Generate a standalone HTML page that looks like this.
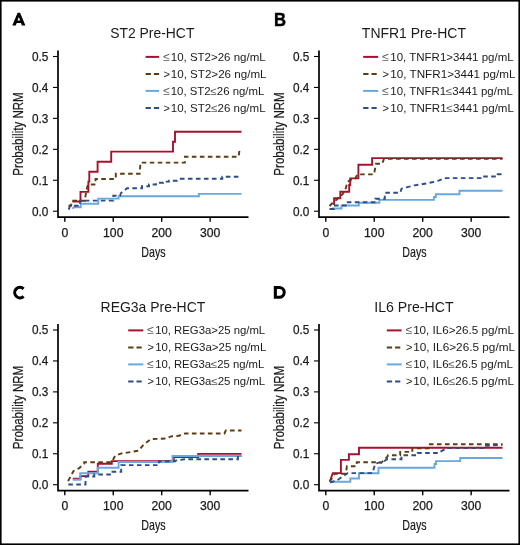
<!DOCTYPE html>
<html><head><meta charset="utf-8"><style>
html,body{margin:0;padding:0;background:#fff;}
body{width:520px;height:545px;overflow:hidden;}
svg{display:block;font-family:"Liberation Sans", sans-serif;will-change:transform;}
</style></head><body>
<svg width="520" height="545" viewBox="0 0 520 545">
<rect x="0" y="0" width="520" height="545" fill="#fff"/>
<g transform="translate(0 0)">
<path d="M12.3 25.6 L17.6 12.7 L20.1 12.7 L25.4 25.6 L21.9 25.6 L21.0 23.1 L16.7 23.1 L15.8 25.6 Z M17.5 20.6 L20.2 20.6 L18.85 16.9 Z" fill="#000" fill-rule="evenodd"/>
<text x="152.3" y="38.15" font-size="14.4" text-anchor="middle" font-weight="normal" fill="#1a1a1a" textLength="84.2" lengthAdjust="spacingAndGlyphs">ST2 Pre-HCT</text>
<path d="M58 50.5 V217.1 H248.5" fill="none" stroke="#000" stroke-width="1.7"/>
<path d="M53 211.2 H58" stroke="#000" stroke-width="1.1"/>
<text x="48.3" y="215.5" font-size="12.4" text-anchor="end" font-weight="normal" fill="#1a1a1a" textLength="16.4" lengthAdjust="spacingAndGlyphs" stroke="#1a1a1a" stroke-width="0.25">0.0</text>
<path d="M53 180.26 H58" stroke="#000" stroke-width="1.1"/>
<text x="48.3" y="184.56" font-size="12.4" text-anchor="end" font-weight="normal" fill="#1a1a1a" textLength="16.4" lengthAdjust="spacingAndGlyphs" stroke="#1a1a1a" stroke-width="0.25">0.1</text>
<path d="M53 149.32 H58" stroke="#000" stroke-width="1.1"/>
<text x="48.3" y="153.62" font-size="12.4" text-anchor="end" font-weight="normal" fill="#1a1a1a" textLength="16.4" lengthAdjust="spacingAndGlyphs" stroke="#1a1a1a" stroke-width="0.25">0.2</text>
<path d="M53 118.38 H58" stroke="#000" stroke-width="1.1"/>
<text x="48.3" y="122.68" font-size="12.4" text-anchor="end" font-weight="normal" fill="#1a1a1a" textLength="16.4" lengthAdjust="spacingAndGlyphs" stroke="#1a1a1a" stroke-width="0.25">0.3</text>
<path d="M53 87.44 H58" stroke="#000" stroke-width="1.1"/>
<text x="48.3" y="91.74" font-size="12.4" text-anchor="end" font-weight="normal" fill="#1a1a1a" textLength="16.4" lengthAdjust="spacingAndGlyphs" stroke="#1a1a1a" stroke-width="0.25">0.4</text>
<path d="M53 56.5 H58" stroke="#000" stroke-width="1.1"/>
<text x="48.3" y="60.8" font-size="12.4" text-anchor="end" font-weight="normal" fill="#1a1a1a" textLength="16.4" lengthAdjust="spacingAndGlyphs" stroke="#1a1a1a" stroke-width="0.25">0.5</text>
<path d="M64.8 217 V221.8" stroke="#000" stroke-width="1.4"/>
<text x="64.8" y="236.9" font-size="12.2" text-anchor="middle" font-weight="normal" fill="#1a1a1a" stroke="#1a1a1a" stroke-width="0.25">0</text>
<path d="M113.25 217 V221.8" stroke="#000" stroke-width="1.4"/>
<text x="113.25" y="236.9" font-size="12.2" text-anchor="middle" font-weight="normal" fill="#1a1a1a" stroke="#1a1a1a" stroke-width="0.25">100</text>
<path d="M161.7 217 V221.8" stroke="#000" stroke-width="1.4"/>
<text x="161.7" y="236.9" font-size="12.2" text-anchor="middle" font-weight="normal" fill="#1a1a1a" stroke="#1a1a1a" stroke-width="0.25">200</text>
<path d="M210.15 217 V221.8" stroke="#000" stroke-width="1.4"/>
<text x="210.15" y="236.9" font-size="12.2" text-anchor="middle" font-weight="normal" fill="#1a1a1a" stroke="#1a1a1a" stroke-width="0.25">300</text>
<text x="153.4" y="256.9" font-size="14.6" text-anchor="middle" font-weight="normal" fill="#1a1a1a" textLength="24.2" lengthAdjust="spacingAndGlyphs" stroke="#1a1a1a" stroke-width="0.2">Days</text>
<text transform="translate(23.2 134.0) rotate(-90)" x="0" y="0" font-size="14.2" text-anchor="middle" fill="#1a1a1a" stroke="#1a1a1a" stroke-width="0.2" textLength="83.3" lengthAdjust="spacingAndGlyphs">Probability NRM</text>
<path d="M145.6 56.9 L159 56.9" fill="none" stroke="#a8102f" stroke-width="2.0"/>
<text x="163.3" y="60.7" font-size="12" fill="#555">≤</text>
<text x="170.75" y="60.65" font-size="10.8" fill="#1a1a1a" textLength="94.85" lengthAdjust="spacingAndGlyphs">10, ST2&gt;26 ng/mL</text>
<path d="M145.6 73.9 H150.9 M153.9 73.9 H159.1" stroke="#5e3c12" stroke-width="2"/>
<text x="163.4" y="77.7" font-size="11" fill="#1a1a1a">&gt;</text>
<text x="170.75" y="77.65" font-size="10.8" fill="#1a1a1a" textLength="95.75" lengthAdjust="spacingAndGlyphs">10, ST2&gt;26 ng/mL</text>
<path d="M145.6 90.9 L159 90.9" fill="none" stroke="#67a8de" stroke-width="2.0"/>
<text x="163.3" y="94.7" font-size="12" fill="#555">≤</text>
<text x="170.75" y="94.65" font-size="10.8" fill="#1a1a1a" textLength="93.55" lengthAdjust="spacingAndGlyphs">10, ST2<tspan fill="#555">≤</tspan>26 ng/mL</text>
<path d="M145.6 107.9 H150.9 M153.9 107.9 H159.1" stroke="#2d4c88" stroke-width="2"/>
<text x="163.4" y="111.7" font-size="11" fill="#1a1a1a">&gt;</text>
<text x="170.75" y="111.65" font-size="10.8" fill="#1a1a1a" textLength="94.85" lengthAdjust="spacingAndGlyphs">10, ST2<tspan fill="#555">≤</tspan>26 ng/mL</text>
<path d="M72.4 201.5 L80.5 201.5 L80.5 191.9 L88.4 191.9 L88.4 181.6 L89.3 181.6 L89.3 171.8 L97.6 171.8 L97.6 161.8 L111.2 161.8 L111.2 151.6 L173 151.6 L173 141.8 L175 141.8 L175 131.7 L241.5 131.7" fill="none" stroke="#a8102f" stroke-width="1.9"/>
<path d="M68.5 205.8 L71 205.8 L72 200.8 L85 200.8 L85.5 196 L86.5 190 L88 184.5 L95.5 184.5 L95.5 179 L115.8 179 L115.8 173.8 L139.6 173.8 L140.5 162.6 L184.9 162.6 L184.9 156.7 L238.6 156.7 L239.5 150.2 L241.5 150.2" fill="none" stroke="#5e3c12" stroke-width="1.9" stroke-dasharray="4.6 3.4"/>
<path d="M72.8 208.8 L73.5 207.3 L80.8 207.3 L80.8 203.8 L98.3 203.8 L98.3 198.6 L118.6 198.6 L118.6 196.3 L198.9 196.3 L198.9 193.9 L241.5 193.9" fill="none" stroke="#67a8de" stroke-width="1.9"/>
<path d="M68.8 209.6 L70 205.8 L80 205.8 L80 200.6 L113.3 200.6 L113.3 195.7 L120 195.7 L121 193 L124 190.8 L127 188.2 L142 188.2 L142 186.3 L149 186.3 L149 184.5 L156 184.5 L156 182.8 L163 182.8 L163 181.6 L169 181.6 L169 180.7 L177 180.7 L178.5 178.8 L222.3 178.8 L222.3 176.7 L241.5 176.7" fill="none" stroke="#2d4c88" stroke-width="1.9" stroke-dasharray="4.6 3.4"/>
</g>
<g transform="translate(261 0)">
<text x="12.9" y="25.5" font-size="18" font-weight="bold" fill="#000" stroke="#000" stroke-width="0.45" textLength="12" lengthAdjust="spacingAndGlyphs">B</text>
<text x="152.9" y="38.15" font-size="14.4" text-anchor="middle" font-weight="normal" fill="#1a1a1a" textLength="104.1" lengthAdjust="spacingAndGlyphs">TNFR1 Pre-HCT</text>
<path d="M58 50.5 V217.1 H248.5" fill="none" stroke="#000" stroke-width="1.7"/>
<path d="M53 211.2 H58" stroke="#000" stroke-width="1.1"/>
<text x="48.3" y="215.5" font-size="12.4" text-anchor="end" font-weight="normal" fill="#1a1a1a" textLength="16.4" lengthAdjust="spacingAndGlyphs" stroke="#1a1a1a" stroke-width="0.25">0.0</text>
<path d="M53 180.26 H58" stroke="#000" stroke-width="1.1"/>
<text x="48.3" y="184.56" font-size="12.4" text-anchor="end" font-weight="normal" fill="#1a1a1a" textLength="16.4" lengthAdjust="spacingAndGlyphs" stroke="#1a1a1a" stroke-width="0.25">0.1</text>
<path d="M53 149.32 H58" stroke="#000" stroke-width="1.1"/>
<text x="48.3" y="153.62" font-size="12.4" text-anchor="end" font-weight="normal" fill="#1a1a1a" textLength="16.4" lengthAdjust="spacingAndGlyphs" stroke="#1a1a1a" stroke-width="0.25">0.2</text>
<path d="M53 118.38 H58" stroke="#000" stroke-width="1.1"/>
<text x="48.3" y="122.68" font-size="12.4" text-anchor="end" font-weight="normal" fill="#1a1a1a" textLength="16.4" lengthAdjust="spacingAndGlyphs" stroke="#1a1a1a" stroke-width="0.25">0.3</text>
<path d="M53 87.44 H58" stroke="#000" stroke-width="1.1"/>
<text x="48.3" y="91.74" font-size="12.4" text-anchor="end" font-weight="normal" fill="#1a1a1a" textLength="16.4" lengthAdjust="spacingAndGlyphs" stroke="#1a1a1a" stroke-width="0.25">0.4</text>
<path d="M53 56.5 H58" stroke="#000" stroke-width="1.1"/>
<text x="48.3" y="60.8" font-size="12.4" text-anchor="end" font-weight="normal" fill="#1a1a1a" textLength="16.4" lengthAdjust="spacingAndGlyphs" stroke="#1a1a1a" stroke-width="0.25">0.5</text>
<path d="M64.8 217 V221.8" stroke="#000" stroke-width="1.4"/>
<text x="64.8" y="236.9" font-size="12.2" text-anchor="middle" font-weight="normal" fill="#1a1a1a" stroke="#1a1a1a" stroke-width="0.25">0</text>
<path d="M113.25 217 V221.8" stroke="#000" stroke-width="1.4"/>
<text x="113.25" y="236.9" font-size="12.2" text-anchor="middle" font-weight="normal" fill="#1a1a1a" stroke="#1a1a1a" stroke-width="0.25">100</text>
<path d="M161.7 217 V221.8" stroke="#000" stroke-width="1.4"/>
<text x="161.7" y="236.9" font-size="12.2" text-anchor="middle" font-weight="normal" fill="#1a1a1a" stroke="#1a1a1a" stroke-width="0.25">200</text>
<path d="M210.15 217 V221.8" stroke="#000" stroke-width="1.4"/>
<text x="210.15" y="236.9" font-size="12.2" text-anchor="middle" font-weight="normal" fill="#1a1a1a" stroke="#1a1a1a" stroke-width="0.25">300</text>
<text x="153.4" y="256.9" font-size="14.6" text-anchor="middle" font-weight="normal" fill="#1a1a1a" textLength="24.2" lengthAdjust="spacingAndGlyphs" stroke="#1a1a1a" stroke-width="0.2">Days</text>
<text transform="translate(23.2 134.0) rotate(-90)" x="0" y="0" font-size="14.2" text-anchor="middle" fill="#1a1a1a" stroke="#1a1a1a" stroke-width="0.2" textLength="83.3" lengthAdjust="spacingAndGlyphs">Probability NRM</text>
<path d="M102.2 56.9 L117.2 56.9" fill="none" stroke="#a8102f" stroke-width="2.0"/>
<text x="121.3" y="60.7" font-size="12" fill="#555">≤</text>
<text x="129.35" y="60.65" font-size="10.8" fill="#1a1a1a" textLength="123.25" lengthAdjust="spacingAndGlyphs">10, TNFR1&gt;3441 pg/mL</text>
<path d="M102.2 73.9 H107.5 M110.5 73.9 H115.7" stroke="#5e3c12" stroke-width="2"/>
<text x="121.4" y="77.7" font-size="11" fill="#1a1a1a">&gt;</text>
<text x="129.35" y="77.65" font-size="10.8" fill="#1a1a1a" textLength="125.15" lengthAdjust="spacingAndGlyphs">10, TNFR1&gt;3441 pg/mL</text>
<path d="M102.2 90.9 L117.2 90.9" fill="none" stroke="#67a8de" stroke-width="2.0"/>
<text x="121.3" y="94.7" font-size="12" fill="#555">≤</text>
<text x="129.35" y="94.65" font-size="10.8" fill="#1a1a1a" textLength="122.45" lengthAdjust="spacingAndGlyphs">10, TNFR1<tspan fill="#555">≤</tspan>3441 pg/mL</text>
<path d="M102.2 107.9 H107.5 M110.5 107.9 H115.7" stroke="#2d4c88" stroke-width="2"/>
<text x="121.4" y="111.7" font-size="11" fill="#1a1a1a">&gt;</text>
<text x="129.35" y="111.65" font-size="10.8" fill="#1a1a1a" textLength="123.55" lengthAdjust="spacingAndGlyphs">10, TNFR1<tspan fill="#555">≤</tspan>3441 pg/mL</text>
<path d="M73.1 204.9 L73.1 198.3 L79.3 198.3 L79.3 191.8 L88.2 191.8 L88.2 185 L89.2 185 L89.2 178.4 L97.4 178.4 L97.4 164.7 L111.1 164.7 L111.1 158.1 L241.5 158.1" fill="none" stroke="#a8102f" stroke-width="1.9"/>
<path d="M68.5 206 L73.9 200.7 L76 199.5 L78.5 195.5 L81 194.8 L84 191 L86.5 182 L89.5 179.8 L93.5 179.8 L96.5 174.4 L113 174.4 L115 163.8 L121.1 163.8 L123 158.9 L241.5 158.9" fill="none" stroke="#5e3c12" stroke-width="1.9" stroke-dasharray="4.6 3.4"/>
<path d="M71 208.5 L80.5 208.5 L80.5 205.5 L97.8 205.5 L97.8 202.8 L118.4 202.8 L118.4 199.9 L172.9 199.9 L172.9 197 L174.8 197 L174.8 194.2 L198.5 194.2 L198.5 190.8 L241.5 190.8" fill="none" stroke="#67a8de" stroke-width="1.9"/>
<path d="M68.5 209 L73 209 L73 205.5 L85.8 205.5 L85.8 202.3 L114.4 202.3 L114.4 198.8 L123.8 198.8 L123.8 192.8 L139.3 192.8 L140.5 188.7 L145.3 187.4 L153.4 185.4 L165.5 183.4 L172.3 182 L178.2 180.4 L183.6 178.1 L222 178.1 L222 176.5 L236.7 176.5 L236.7 174.2 L241.5 174.2" fill="none" stroke="#2d4c88" stroke-width="1.9" stroke-dasharray="4.6 3.4"/>
</g>
<g transform="translate(0 273.5)">
<path d="M23.6 15.3 A5.25 5.25 0 1 0 23.6 22.9" fill="none" stroke="#000" stroke-width="3.1"/>
<text x="152.9" y="38.15" font-size="14.4" text-anchor="middle" font-weight="normal" fill="#1a1a1a" textLength="104.7" lengthAdjust="spacingAndGlyphs">REG3a Pre-HCT</text>
<path d="M58 50.5 V217.1 H248.5" fill="none" stroke="#000" stroke-width="1.7"/>
<path d="M53 211.2 H58" stroke="#000" stroke-width="1.1"/>
<text x="48.3" y="215.5" font-size="12.4" text-anchor="end" font-weight="normal" fill="#1a1a1a" textLength="16.4" lengthAdjust="spacingAndGlyphs" stroke="#1a1a1a" stroke-width="0.25">0.0</text>
<path d="M53 180.26 H58" stroke="#000" stroke-width="1.1"/>
<text x="48.3" y="184.56" font-size="12.4" text-anchor="end" font-weight="normal" fill="#1a1a1a" textLength="16.4" lengthAdjust="spacingAndGlyphs" stroke="#1a1a1a" stroke-width="0.25">0.1</text>
<path d="M53 149.32 H58" stroke="#000" stroke-width="1.1"/>
<text x="48.3" y="153.62" font-size="12.4" text-anchor="end" font-weight="normal" fill="#1a1a1a" textLength="16.4" lengthAdjust="spacingAndGlyphs" stroke="#1a1a1a" stroke-width="0.25">0.2</text>
<path d="M53 118.38 H58" stroke="#000" stroke-width="1.1"/>
<text x="48.3" y="122.68" font-size="12.4" text-anchor="end" font-weight="normal" fill="#1a1a1a" textLength="16.4" lengthAdjust="spacingAndGlyphs" stroke="#1a1a1a" stroke-width="0.25">0.3</text>
<path d="M53 87.44 H58" stroke="#000" stroke-width="1.1"/>
<text x="48.3" y="91.74" font-size="12.4" text-anchor="end" font-weight="normal" fill="#1a1a1a" textLength="16.4" lengthAdjust="spacingAndGlyphs" stroke="#1a1a1a" stroke-width="0.25">0.4</text>
<path d="M53 56.5 H58" stroke="#000" stroke-width="1.1"/>
<text x="48.3" y="60.8" font-size="12.4" text-anchor="end" font-weight="normal" fill="#1a1a1a" textLength="16.4" lengthAdjust="spacingAndGlyphs" stroke="#1a1a1a" stroke-width="0.25">0.5</text>
<path d="M64.8 217 V221.8" stroke="#000" stroke-width="1.4"/>
<text x="64.8" y="236.9" font-size="12.2" text-anchor="middle" font-weight="normal" fill="#1a1a1a" stroke="#1a1a1a" stroke-width="0.25">0</text>
<path d="M113.25 217 V221.8" stroke="#000" stroke-width="1.4"/>
<text x="113.25" y="236.9" font-size="12.2" text-anchor="middle" font-weight="normal" fill="#1a1a1a" stroke="#1a1a1a" stroke-width="0.25">100</text>
<path d="M161.7 217 V221.8" stroke="#000" stroke-width="1.4"/>
<text x="161.7" y="236.9" font-size="12.2" text-anchor="middle" font-weight="normal" fill="#1a1a1a" stroke="#1a1a1a" stroke-width="0.25">200</text>
<path d="M210.15 217 V221.8" stroke="#000" stroke-width="1.4"/>
<text x="210.15" y="236.9" font-size="12.2" text-anchor="middle" font-weight="normal" fill="#1a1a1a" stroke="#1a1a1a" stroke-width="0.25">300</text>
<text x="153.4" y="256.9" font-size="14.6" text-anchor="middle" font-weight="normal" fill="#1a1a1a" textLength="24.2" lengthAdjust="spacingAndGlyphs" stroke="#1a1a1a" stroke-width="0.2">Days</text>
<text transform="translate(23.2 134.0) rotate(-90)" x="0" y="0" font-size="14.2" text-anchor="middle" fill="#1a1a1a" stroke="#1a1a1a" stroke-width="0.2" textLength="83.3" lengthAdjust="spacingAndGlyphs">Probability NRM</text>
<path d="M128.2 56.9 L143.3 56.9" fill="none" stroke="#a8102f" stroke-width="2.0"/>
<text x="147.3" y="60.7" font-size="12" fill="#555">≤</text>
<text x="155.15" y="60.65" font-size="10.8" fill="#1a1a1a" textLength="110.05" lengthAdjust="spacingAndGlyphs">10, REG3a&gt;25 ng/mL</text>
<path d="M128.2 73.9 H133.5 M136.5 73.9 H141.7" stroke="#5e3c12" stroke-width="2"/>
<text x="147.4" y="77.7" font-size="11" fill="#1a1a1a">&gt;</text>
<text x="155.15" y="77.65" font-size="10.8" fill="#1a1a1a" textLength="111.15" lengthAdjust="spacingAndGlyphs">10, REG3a&gt;25 ng/mL</text>
<path d="M128.2 90.9 L143.3 90.9" fill="none" stroke="#67a8de" stroke-width="2.0"/>
<text x="147.3" y="94.7" font-size="12" fill="#555">≤</text>
<text x="155.15" y="94.65" font-size="10.8" fill="#1a1a1a" textLength="109.15" lengthAdjust="spacingAndGlyphs">10, REG3a<tspan fill="#555">≤</tspan>25 ng/mL</text>
<path d="M128.2 107.9 H133.5 M136.5 107.9 H141.7" stroke="#2d4c88" stroke-width="2"/>
<text x="147.4" y="111.7" font-size="11" fill="#1a1a1a">&gt;</text>
<text x="155.15" y="111.65" font-size="10.8" fill="#1a1a1a" textLength="110.05" lengthAdjust="spacingAndGlyphs">10, REG3a<tspan fill="#555">≤</tspan>25 ng/mL</text>
<path d="M72.8 205.3 L80.5 205.3 L80.5 202.6 L88.3 202.6 L88.3 198.1 L97.8 198.1 L97.8 190.3 L111.8 190.3 L111.8 187.6 L173.8 187.6 L173.8 183.6 L198.2 183.6 L198.2 180.4 L241.5 180.4" fill="none" stroke="#a8102f" stroke-width="1.9"/>
<path d="M68.1 207.6 L73.5 197.5 L78.8 194.9 L84.2 190.1 L84.2 188.8 L111.8 188.8 L115.2 182.1 L123.3 179.4 L127.3 179.1 L138.8 177.1 L143.6 171 L151 165.6 L165.8 165 L171.1 162.9 L179.2 162.3 L183.3 160.2 L185.4 160 L224.4 160 L225.8 157 L241.5 157" fill="none" stroke="#5e3c12" stroke-width="1.9" stroke-dasharray="4.6 3.4"/>
<path d="M72.8 206.2 L80.2 206.2 L80.2 199.8 L97.7 199.8 L97.7 194.3 L118.6 194.3 L118.6 188.5 L172.5 188.5 L172.5 182.5 L241.5 182.5" fill="none" stroke="#67a8de" stroke-width="1.9"/>
<path d="M68.3 211 L85.5 211 L85.5 203 L94.3 203 L94.3 201 L112.5 201 L112.5 198.3 L121.2 198.3 L121.2 191.6 L159 191.6 L159 187.7 L175.2 187.7 L175.2 187.2 L184.6 185.7 L237.9 185.7 L237.9 182.5 L241.5 182.5" fill="none" stroke="#2d4c88" stroke-width="1.9" stroke-dasharray="4.6 3.4"/>
</g>
<g transform="translate(261 273.5)">
<path d="M12.8 12.4 H18.3 A6.45 6.45 0 0 1 18.3 25.3 H12.8 Z M15.9 15.45 H18.3 A3.4 3.4 0 0 1 18.3 22.25 H15.9 Z" fill="#000" fill-rule="evenodd"/>
<text x="152.9" y="38.15" font-size="14.4" text-anchor="middle" font-weight="normal" fill="#1a1a1a" textLength="79.3" lengthAdjust="spacingAndGlyphs">IL6 Pre-HCT</text>
<path d="M58 50.5 V217.1 H248.5" fill="none" stroke="#000" stroke-width="1.7"/>
<path d="M53 211.2 H58" stroke="#000" stroke-width="1.1"/>
<text x="48.3" y="215.5" font-size="12.4" text-anchor="end" font-weight="normal" fill="#1a1a1a" textLength="16.4" lengthAdjust="spacingAndGlyphs" stroke="#1a1a1a" stroke-width="0.25">0.0</text>
<path d="M53 180.26 H58" stroke="#000" stroke-width="1.1"/>
<text x="48.3" y="184.56" font-size="12.4" text-anchor="end" font-weight="normal" fill="#1a1a1a" textLength="16.4" lengthAdjust="spacingAndGlyphs" stroke="#1a1a1a" stroke-width="0.25">0.1</text>
<path d="M53 149.32 H58" stroke="#000" stroke-width="1.1"/>
<text x="48.3" y="153.62" font-size="12.4" text-anchor="end" font-weight="normal" fill="#1a1a1a" textLength="16.4" lengthAdjust="spacingAndGlyphs" stroke="#1a1a1a" stroke-width="0.25">0.2</text>
<path d="M53 118.38 H58" stroke="#000" stroke-width="1.1"/>
<text x="48.3" y="122.68" font-size="12.4" text-anchor="end" font-weight="normal" fill="#1a1a1a" textLength="16.4" lengthAdjust="spacingAndGlyphs" stroke="#1a1a1a" stroke-width="0.25">0.3</text>
<path d="M53 87.44 H58" stroke="#000" stroke-width="1.1"/>
<text x="48.3" y="91.74" font-size="12.4" text-anchor="end" font-weight="normal" fill="#1a1a1a" textLength="16.4" lengthAdjust="spacingAndGlyphs" stroke="#1a1a1a" stroke-width="0.25">0.4</text>
<path d="M53 56.5 H58" stroke="#000" stroke-width="1.1"/>
<text x="48.3" y="60.8" font-size="12.4" text-anchor="end" font-weight="normal" fill="#1a1a1a" textLength="16.4" lengthAdjust="spacingAndGlyphs" stroke="#1a1a1a" stroke-width="0.25">0.5</text>
<path d="M64.8 217 V221.8" stroke="#000" stroke-width="1.4"/>
<text x="64.8" y="236.9" font-size="12.2" text-anchor="middle" font-weight="normal" fill="#1a1a1a" stroke="#1a1a1a" stroke-width="0.25">0</text>
<path d="M113.25 217 V221.8" stroke="#000" stroke-width="1.4"/>
<text x="113.25" y="236.9" font-size="12.2" text-anchor="middle" font-weight="normal" fill="#1a1a1a" stroke="#1a1a1a" stroke-width="0.25">100</text>
<path d="M161.7 217 V221.8" stroke="#000" stroke-width="1.4"/>
<text x="161.7" y="236.9" font-size="12.2" text-anchor="middle" font-weight="normal" fill="#1a1a1a" stroke="#1a1a1a" stroke-width="0.25">200</text>
<path d="M210.15 217 V221.8" stroke="#000" stroke-width="1.4"/>
<text x="210.15" y="236.9" font-size="12.2" text-anchor="middle" font-weight="normal" fill="#1a1a1a" stroke="#1a1a1a" stroke-width="0.25">300</text>
<text x="153.4" y="256.9" font-size="14.6" text-anchor="middle" font-weight="normal" fill="#1a1a1a" textLength="24.2" lengthAdjust="spacingAndGlyphs" stroke="#1a1a1a" stroke-width="0.2">Days</text>
<text transform="translate(23.2 134.0) rotate(-90)" x="0" y="0" font-size="14.2" text-anchor="middle" fill="#1a1a1a" stroke="#1a1a1a" stroke-width="0.2" textLength="83.3" lengthAdjust="spacingAndGlyphs">Probability NRM</text>
<path d="M125.8 56.9 L140.6 56.9" fill="none" stroke="#a8102f" stroke-width="2.0"/>
<text x="144.8" y="60.7" font-size="12" fill="#555">≤</text>
<text x="152.15" y="60.65" font-size="10.8" fill="#1a1a1a" textLength="100.75" lengthAdjust="spacingAndGlyphs">10, IL6&gt;26.5 pg/mL</text>
<path d="M125.8 73.9 H131.1 M134.1 73.9 H139.3" stroke="#5e3c12" stroke-width="2"/>
<text x="144.9" y="77.7" font-size="11" fill="#1a1a1a">&gt;</text>
<text x="152.15" y="77.65" font-size="10.8" fill="#1a1a1a" textLength="101.95" lengthAdjust="spacingAndGlyphs">10, IL6&gt;26.5 pg/mL</text>
<path d="M125.8 90.9 L140.6 90.9" fill="none" stroke="#67a8de" stroke-width="2.0"/>
<text x="144.8" y="94.7" font-size="12" fill="#555">≤</text>
<text x="152.15" y="94.65" font-size="10.8" fill="#1a1a1a" textLength="99.85" lengthAdjust="spacingAndGlyphs">10, IL6<tspan fill="#555">≤</tspan>26.5 pg/mL</text>
<path d="M125.8 107.9 H131.1 M134.1 107.9 H139.3" stroke="#2d4c88" stroke-width="2"/>
<text x="144.9" y="111.7" font-size="11" fill="#1a1a1a">&gt;</text>
<text x="152.15" y="111.65" font-size="10.8" fill="#1a1a1a" textLength="100.75" lengthAdjust="spacingAndGlyphs">10, IL6<tspan fill="#555">≤</tspan>26.5 pg/mL</text>
<path d="M68.7 208.3 L71.8 199.6 L79.9 199.6 L79.9 186.4 L87.9 186.4 L87.9 180.7 L98 180.7 L98 174.3 L241.5 174.3" fill="none" stroke="#a8102f" stroke-width="1.9"/>
<path d="M68.7 208.3 L73.8 200.2 L84.8 200.2 L85.9 192.8 L95.3 192.8 L95.8 188.8 L115.5 188.8 L120.3 189.2 L126.4 183.1 L127 181.8 L139.2 181.8 L139.2 178.4 L151.3 178.4 L151.3 174.7 L167.5 174.7 L167.5 170.8 L241.5 170.8" fill="none" stroke="#5e3c12" stroke-width="1.9" stroke-dasharray="4.6 3.4"/>
<path d="M69.1 208.3 L89.3 208.3 L89.3 205 L98 205 L98 199.8 L117.5 199.8 L117.5 194.3 L173.5 194.3 L173.5 190.5 L175 190.5 L175 187.6 L199.2 187.6 L199.2 184.5 L241.5 184.5" fill="none" stroke="#67a8de" stroke-width="1.9"/>
<path d="M69.1 209 L75.8 207 L82.6 202.3 L86.6 199.6 L111.5 199.6 L114.2 190.1 L123 187.8 L126 185.8 L140.5 185.8 L140.5 181.8 L156.7 181.8 L156.7 179.5 L178.2 179.5 L179 178.4 L184.4 175.5 L185 174.6 L223.4 174.6 L223.4 172.4 L238.2 171.4 L241.5 171.4" fill="none" stroke="#2d4c88" stroke-width="1.9" stroke-dasharray="4.6 3.4"/>
</g>
<rect x="0.8" y="0.8" width="518.4" height="543.4" fill="none" stroke="#000" stroke-width="1.6"/>
</svg>
</body></html>
